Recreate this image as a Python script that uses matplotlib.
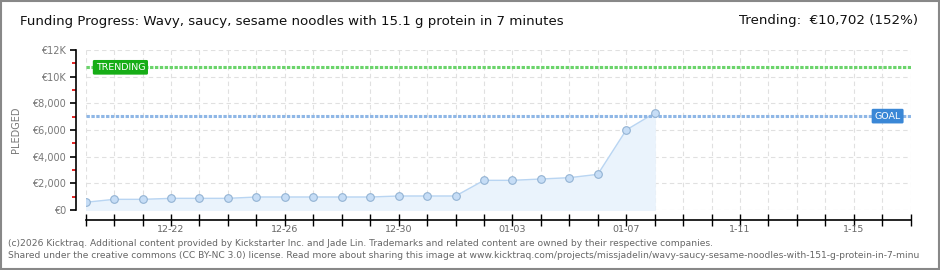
import numpy as np
import matplotlib
matplotlib.use('Agg')
from matplotlib import pyplot as plt
from matplotlib.patches import Rectangle

plt.rcParams['font.family'] = ['DejaVu Sans']

# data (day 0 = 12-19)
days = ['12-19', '12-20', '12-21', '12-22', '12-23', '12-24', '12-25', '12-26',
        '12-27', '12-28', '12-29', '12-30', '12-31', '01-01', '01-02', '01-03',
        '01-04', '01-05', '01-06', '01-07', '01-08']
pledged = [580, 800, 800, 875, 875, 875, 975, 975, 975, 975, 975, 1050, 1050,
           1050, 2225, 2225, 2325, 2425, 2675, 6000, 7275]
n_days_axis = 29          # axis runs 12-19 .. 1-17
tick_pos = [3, 7, 11, 15, 19, 23, 27]
tick_labels = ['12-22', '12-26', '12-30', '01-03', '01-07', '1-11', '1-15']
y_ticks = [0, 2000, 4000, 6000, 8000, 10000, 12000]
y_labels = ['€0', '€2,000', '€4,000', '€6,000', '€8,000', '€10K', '€12K']
goal = 7041
trending = 10702
title = 'Funding Progress: Wavy, saucy, sesame noodles with 15.1 g protein in 7 minutes'
trend_text = 'Trending:  €10,702 (152%)'
footer1 = ('(c)2026 Kicktraq. Additional content provided by Kickstarter Inc. and Jade Lin. '
           'Trademarks and related content are owned by their respective companies.')
footer2 = ('Shared under the creative commons (CC BY-NC 3.0) license. Read more about sharing this '
           'image at www.kicktraq.com/projects/missjadelin/wavy-saucy-sesame-noodles-with-151-g-protein-in-7-minu')

x = np.arange(len(pledged))

fig = plt.figure(figsize=(9.4, 2.7), dpi=100)
ax = fig.add_axes([85.7/940, 60/270, 825/940, 160/270])

ax.fill_between(x, pledged, 0, color='#eaf3fc', zorder=1)
ax.plot(x, pledged, color='#b9d5f2', lw=1, zorder=2)
ax.plot(x, pledged, 'o', ms=5.5, mfc='#c6ddf6', mec='#93b3d3', mew=0.8, zorder=4)

ax.axhline(trending, color='#6bd46b', lw=2.2, dashes=(1.1, 0.5), zorder=3)
ax.axhline(goal, color='#8fb7e6', lw=2.2, dashes=(1.1, 0.5), zorder=3)

ax.text(0.35, trending, 'TRENDING', color='white', fontsize=6.8,
        ha='left', va='center', zorder=5,
        bbox=dict(boxstyle='round,pad=0.3,rounding_size=0.15', fc='#16ad16', ec='none'))
ax.text(28.65, goal, 'GOAL', color='white', fontsize=6.8,
        ha='right', va='center', zorder=5,
        bbox=dict(boxstyle='round,pad=0.3,rounding_size=0.15', fc='#3a87d6', ec='none'))

ax.set_xlim(0, n_days_axis)
ax.set_ylim(0, 12000)
labels = ['' for i in range(n_days_axis + 1)]
for p, t in zip(tick_pos, tick_labels):
    labels[p] = t
ax.set_xticks(range(n_days_axis + 1))
ax.set_xticklabels(labels)
ax.tick_params(axis='x', which='major', direction='inout', length=8, width=1, color='black',
               pad=0, labelsize=6.8, labelcolor='#666666')

ax.set_yticks(y_ticks)
ax.set_yticklabels(y_labels)
ax.set_yticks([1000, 3000, 5000, 7000, 9000, 11000], minor=True)
ax.tick_params(axis='y', which='major', direction='out', length=4, width=1.2, color='black',
               labelsize=7, labelcolor='#777777', pad=3)
ax.tick_params(axis='y', which='minor', direction='out', length=3, width=1.2, color='#dd0000')

ax.grid(True, which='major', color='#e0e0e0', ls=(0, (4, 3)), lw=0.8)
ax.set_axisbelow(True)

for s in ['top', 'right']:
    ax.spines[s].set_visible(False)
ax.spines['left'].set_position(('outward', 7))
ax.spines['bottom'].set_position(('outward', 7))
ax.spines['left'].set_linewidth(1.2)
ax.spines['bottom'].set_linewidth(1.2)

ax.set_ylabel('PLEDGED', fontsize=7, color='#777777', labelpad=8)

fig.text(20/940, 1 - 22/270, title, fontsize=9.6, color='#111111', ha='left', va='center')
fig.text(918/940, 1 - 21/270, trend_text, fontsize=9.6, color='#111111', ha='right', va='center')
fig.text(8/940, 1 - 243/270, footer1, fontsize=6.6, color='#666666', ha='left', va='center')
fig.text(8/940, 1 - 256/270, footer2, fontsize=6.6, color='#666666', ha='left', va='center')

fig.patches.append(Rectangle((0.001, 0.002), 0.998, 0.996, transform=fig.transFigure,
                             fill=False, ec='#888888', lw=1.5))

fig.savefig('out.png', dpi=100)
